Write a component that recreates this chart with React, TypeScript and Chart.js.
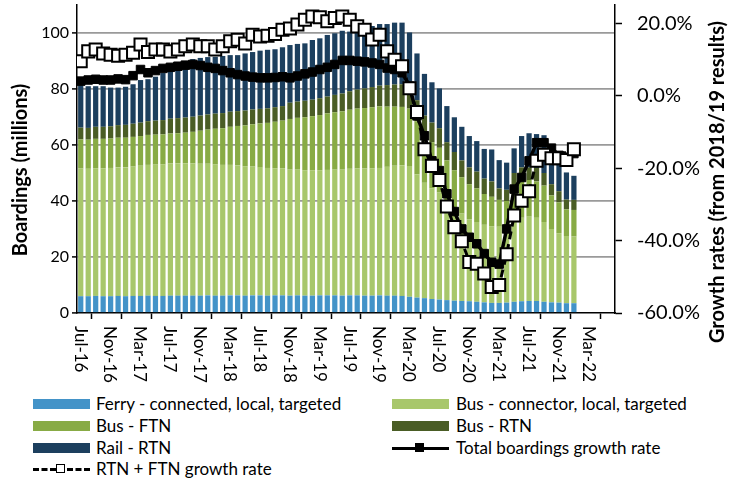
import React, { useEffect, useRef } from "react";
import { Chart, registerables } from "chart.js";

Chart.register(...registerables);

const FONT = "Lato, 'Liberation Sans', sans-serif";

// Monthly categories (Jul-16 .. Jan-22)
const months = [
  "Jul-16","Aug-16","Sep-16","Oct-16","Nov-16","Dec-16","Jan-17","Feb-17","Mar-17","Apr-17","May-17","Jun-17",
  "Jul-17","Aug-17","Sep-17","Oct-17","Nov-17","Dec-17","Jan-18","Feb-18","Mar-18","Apr-18","May-18","Jun-18",
  "Jul-18","Aug-18","Sep-18","Oct-18","Nov-18","Dec-18","Jan-19","Feb-19","Mar-19","Apr-19","May-19","Jun-19",
  "Jul-19","Aug-19","Sep-19","Oct-19","Nov-19","Dec-19","Jan-20","Feb-20","Mar-20","Apr-20","May-20","Jun-20",
  "Jul-20","Aug-20","Sep-20","Oct-20","Nov-20","Dec-20","Jan-21","Feb-21","Mar-21","Apr-21","May-21","Jun-21",
  "Jul-21","Aug-21","Sep-21","Oct-21","Nov-21","Dec-21","Jan-22"
];

// Axis tick labels (every 4 months, axis runs to Jul-22)
const tickLabels = [
  "Jul-16","Nov-16","Mar-17","Jul-17","Nov-17","Mar-18","Jul-18","Nov-18","Mar-19",
  "Jul-19","Nov-19","Mar-20","Jul-20","Nov-20","Mar-21","Jul-21","Nov-21","Mar-22"
];
const axisMonths = 72;

const seriesNames = [
  "Ferry - connected, local, targeted",
  "Bus - connector, local, targeted",
  "Bus - FTN",
  "Bus - RTN",
  "Rail - RTN",
  "Total boardings growth rate",
  "RTN + FTN growth rate",
];
const barColors = ["#4393c8", "#a8c76b", "#88ab45", "#4a5d25", "#1c3f5e"];

const ferry = [
  6.0,6.0,6.1,6.0,6.0,6.1,6.0,6.1,6.1,6.2,6.1,6.1,6.2,6.2,6.2,6.2,6.2,6.3,6.2,6.2,6.3,6.3,6.2,6.3,
  6.3,6.2,6.3,6.3,6.2,6.3,6.2,6.2,6.3,6.3,6.3,6.2,6.3,6.3,6.2,6.2,6.3,6.2,6.2,6.1,
  5.8,5.5,5.3,5.0,4.8,4.6,4.4,4.3,4.2,4.0,3.8,3.6,3.6,3.7,4.0,4.2,4.3,4.3,4.0,3.8,3.7,3.5,3.5
];
const busConnector = [
  45.6,45.5,45.6,45.7,45.8,45.9,46.0,46.2,46.5,46.7,46.9,47.0,47.2,47.3,47.3,47.2,47.1,47.0,46.9,46.7,46.6,46.4,46.2,46.0,
  45.8,45.6,45.4,45.4,45.0,44.9,44.8,44.8,44.7,44.8,44.9,45.0,45.2,45.3,45.4,45.5,45.5,46.0,46.4,46.7,
  46.7,44.0,41.2,39.5,38.2,35.4,33.1,31.2,29.3,28.5,27.7,27.4,27.2,26.8,29.0,29.8,30.1,29.7,28.5,26.2,24.8,24.0,23.8
];
const busFTN = [
  10.4,10.4,10.5,10.5,10.5,10.6,10.6,10.6,10.6,10.7,10.7,10.7,10.7,10.7,10.9,11.3,11.8,12.2,12.7,13.1,13.6,14.1,14.6,15.1,
  15.6,16.1,16.6,17.0,18.1,18.5,18.9,19.3,19.7,20.2,20.5,20.8,21.1,21.4,21.6,21.8,22.0,21.5,21.1,20.8,
  20.5,19.0,17.0,16.5,16.0,14.5,13.5,13.0,12.5,12.0,11.0,10.5,9.6,9.5,12.0,13.0,13.1,13.0,13.0,12.0,11.0,9.5,9.5
];
const busRTN = [
  4.2,4.2,4.3,4.3,4.4,4.5,4.6,4.7,4.8,4.9,5.0,5.1,5.3,5.4,5.4,5.4,5.4,5.4,5.4,5.4,5.4,5.3,5.3,5.3,
  5.2,5.2,5.2,5.2,5.8,5.8,5.9,5.9,6.0,6.0,6.2,6.4,6.6,6.8,7.0,7.2,7.4,7.7,7.9,8.1,
  8.0,7.5,7.0,7.0,7.0,6.5,6.5,6.0,6.0,6.0,5.5,5.5,4.1,4.0,5.0,5.0,4.5,4.8,4.5,4.0,4.0,3.5,3.6
];
const railRTN = [
  15.3,14.9,14.5,14.5,13.8,13.4,13.6,14.1,15.2,15.0,15.7,16.8,17.4,19.7,20.0,20.6,20.6,20.5,20.3,20.4,20.2,20.0,20.4,20.5,
  20.8,20.9,20.7,21.0,20.6,20.6,20.5,21.3,21.4,22.0,22.0,22.4,21.3,21.2,21.9,21.8,22.0,21.8,22.1,22.0,
  19.2,16.7,14.9,14.4,14.2,12.9,12.4,12.0,11.2,10.9,10.6,11.4,10.1,9.7,8.8,11.2,12.2,12.1,13.5,14.0,13.0,9.7,8.6
];

// Growth rates (%)
const totalGrowth = [
  4.0,4.3,4.5,4.3,4.3,4.6,4.4,5.5,7.2,6.3,6.9,7.5,7.8,8.1,8.4,8.6,8.3,7.8,7.5,6.9,6.3,5.8,5.4,5.1,
  4.9,4.9,5.0,5.2,4.9,5.4,6.0,6.5,7.2,7.8,8.6,9.7,9.7,9.5,9.3,9.0,8.6,7.6,7.2,6.3,
  2.6,-5.6,-11.1,-18.0,-20.7,-27.1,-32.0,-36.8,-39.1,-40.9,-43.6,-46.0,-46.5,-36.8,-25.8,-22.6,-18.0,-13.0,-13.0,-14.5,-16.5,-17.0,-16.0
];
const rtnFtnGrowth = [
  9.5,12.2,12.7,11.6,11.3,11.0,11.3,11.8,14.1,12.0,12.7,12.7,12.2,12.7,13.6,14.1,13.6,13.6,12.7,13.6,15.0,15.4,14.4,16.8,
  16.3,16.5,17.0,18.2,18.5,19.6,20.9,21.8,21.6,20.5,21.4,21.8,20.9,19.1,18.2,15.5,16.8,12.2,9.9,8.1,
  2.0,-4.5,-14.8,-19.4,-23.3,-30.6,-36.3,-40.2,-45.9,-46.4,-49.1,-52.8,-52.3,-43.8,-33.1,-29.0,-26.4,-18.0,-16.3,-17.3,-17.3,-17.8,-14.8
];

const leftTitle = "Boardings (millions)";
const rightTitle = "Growth rates (from 2018/19 results)";

const toPts = (arr: number[]) => arr.map((v, i) => ({ x: i + 0.5, y: v }));

const textPlugin = {
  id: "customText",
  afterDraw(chart: any) {
    const ctx = chart.ctx;
    const xs = chart.scales.x;
    ctx.save();
    ctx.fillStyle = "#000";
    ctx.font = `17px ${FONT}`;
    ctx.textAlign = "left";
    ctx.textBaseline = "middle";
    tickLabels.forEach((lab, k) => {
      const px = xs.getPixelForValue(k * 4);
      ctx.save();
      ctx.translate(px + 3, xs.top + 13);
      ctx.rotate(Math.PI / 2);
      ctx.fillText(lab, 0, 0);
      ctx.restore();
    });
    ctx.font = `bold 20px ${FONT}`;
    ctx.textAlign = "center";
    ctx.save();
    ctx.translate(21, 170);
    ctx.rotate(-Math.PI / 2);
    ctx.fillText(leftTitle, 0, 0);
    ctx.restore();
    ctx.save();
    ctx.translate(718, 182);
    ctx.rotate(-Math.PI / 2);
    ctx.fillText(rightTitle, 0, 0);
    ctx.restore();
    ctx.restore();
  },
};

function LegendIcon({ k }: { k: number }) {
  if (k < 5) {
    return <div style={{ width: 57, height: 10, background: barColors[k] }} />;
  }
  const dashed = k === 6;
  return (
    <div style={{ width: 57, height: 12, position: "relative" }}>
      <div
        style={{
          position: "absolute",
          left: 0,
          right: 0,
          top: 5,
          borderTop: dashed ? "3px dashed #000" : "3px solid #000",
        }}
      />
      <div
        style={{
          position: "absolute",
          left: 23,
          top: 1,
          width: dashed ? 7 : 9,
          height: dashed ? 7 : 9,
          background: dashed ? "#fff" : "#000",
          border: dashed ? "1.5px solid #000" : "none",
        }}
      />
    </div>
  );
}

export default function App() {
  const ref = useRef<HTMLCanvasElement>(null);

  useEffect(() => {
    if (!ref.current) return;
    const barData = [ferry, busConnector, busFTN, busRTN, railRTN];
    const chart = new Chart(ref.current, {
      type: "bar",
      data: {
        datasets: [
          ...barData.map((arr, k) => ({
            type: "bar" as const,
            label: seriesNames[k],
            data: toPts(arr),
            backgroundColor: barColors[k],
            borderWidth: 0,
            barPercentage: 0.7,
            categoryPercentage: 1,
            yAxisID: "y",
            order: 3,
          })),
          {
            type: "line" as const,
            label: seriesNames[5],
            data: toPts(totalGrowth),
            yAxisID: "y2",
            borderColor: "#000",
            borderWidth: 3.5,
            backgroundColor: "#000",
            pointStyle: "rect",
            pointRadius: 6,
            pointBackgroundColor: "#000",
            pointBorderColor: "#000",
            pointBorderWidth: 1,
            tension: 0,
            order: 2,
          },
          {
            type: "line" as const,
            label: seriesNames[6],
            data: toPts(rtnFtnGrowth),
            yAxisID: "y2",
            borderColor: "#000",
            borderWidth: 3,
            borderDash: [8, 5],
            pointStyle: "rect",
            pointRadius: 8.5,
            pointBackgroundColor: "#fff",
            pointBorderColor: "#000",
            pointBorderWidth: 2,
            tension: 0,
            order: 1,
          },
        ] as any,
      },
      options: {
        responsive: false,
        animation: false,
        devicePixelRatio: 1,
        layout: { autoPadding: false, padding: { top: 5, left: 0, right: 0, bottom: 0 } },
        plugins: { legend: { display: false }, tooltip: { enabled: false } },
        scales: {
          x: {
            type: "linear",
            min: 0,
            max: axisMonths,
            offset: false,
            stacked: true,
            ticks: {
              stepSize: 4,
              autoSkip: false,
              maxRotation: 90,
              minRotation: 90,
              color: "transparent",
              font: { family: FONT, size: 10, lineHeight: 0.5 },
              callback: (v: any) => tickLabels[Math.round(Number(v) / 4)] ?? "",
            },
            grid: {
              drawOnChartArea: false,
              drawTicks: true,
              tickLength: 6,
              tickColor: "#000",
              tickWidth: 1.5,
            },
            border: { color: "#000", width: 1.5 },
            afterFit: (s: any) => {
              s.height = 77;
              s.paddingLeft = 0;
              s.paddingRight = 0;
            },
          } as any,
          y: {
            position: "left",
            stacked: true,
            min: 0,
            max: 110,
            ticks: {
              stepSize: 20,
              includeBounds: false,
              color: "#000",
              padding: 3,
              font: { family: FONT, size: 16, lineHeight: 0.5 },
            },
            grid: {
              color: (c: any) => (c.tick && c.tick.value === 0 ? "rgba(0,0,0,0)" : "#9a9a9a"),
              lineWidth: 1.8,
              tickLength: 5,
              tickColor: "#000",
              tickWidth: 1.5,
            },
            border: { color: "#000", width: 1.5 },
            afterFit: (s: any) => {
              s.width = 77;
              s.paddingTop = 0;
              s.paddingBottom = 0;
            },
          } as any,
          y2: {
            position: "right",
            min: -60,
            max: 25,
            ticks: {
              stepSize: 20,
              includeBounds: false,
              color: "#000",
              padding: 15,
              font: { family: FONT, size: 20, lineHeight: 0.5 },
              callback: (v: any) => Number(v).toFixed(1) + "%",
            },
            grid: {
              drawOnChartArea: false,
              tickLength: 7,
              tickColor: "#000",
              tickWidth: 1.5,
            },
            border: { color: "#000", width: 1.5 },
            afterFit: (s: any) => {
              s.width = 118;
              s.paddingTop = 0;
              s.paddingBottom = 0;
            },
          } as any,
        },
      },
      plugins: [textPlugin],
    });
    return () => chart.destroy();
  }, []);

  const rowsY = [404, 426, 448, 469];
  const colX = [33, 392];
  const textX = [96, 456];

  return (
    <div style={{ position: "absolute", left: 0, top: 0, width: 733, height: 481, overflow: "hidden", background: "#fff" }}>
      <canvas ref={ref} width={733} height={390} style={{ position: "absolute", left: 0, top: 0 }} />
      {seriesNames.map((name, k) => {
        const col = k % 2;
        const row = Math.floor(k / 2);
        const cy = rowsY[row];
        return (
          <React.Fragment key={name}>
            <div style={{ position: "absolute", left: colX[col], top: cy - (k < 5 ? 5 : 6) }}>
              <LegendIcon k={k} />
            </div>
            <div
              style={{
                position: "absolute",
                left: textX[col],
                top: cy - 11,
                height: 22,
                lineHeight: "22px",
                fontFamily: FONT,
                fontSize: 17,
                color: "#000",
                whiteSpace: "nowrap",
              }}
            >
              {name}
            </div>
          </React.Fragment>
        );
      })}
    </div>
  );
}
